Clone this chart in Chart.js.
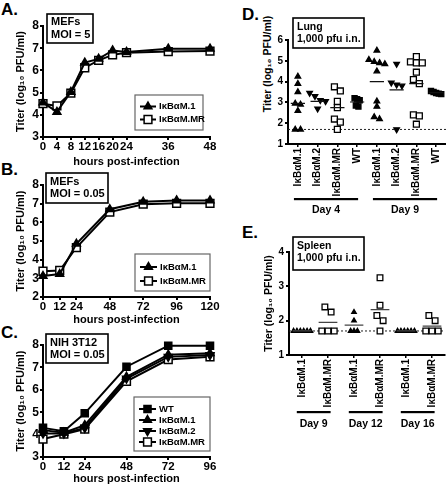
<!DOCTYPE html>
<html lang="en">
<head>
<meta charset="UTF-8">
<title>Titer</title>
<script src="https://cdn.jsdelivr.net/npm/chart.js"></script>
<style>
  body { margin: 0; width: 446px; height: 484px; position: relative; overflow: hidden; background: #fff;
         font-family: "Liberation Sans", Arial, sans-serif; font-weight: bold; color: #000; }
  canvas, .letter, .ytitle { position: absolute; }
  .letter { font-size: 17px; line-height: 17px; }
  .ytitle { font-size: 10.5px; white-space: nowrap; transform: translate(-50%, -50%) rotate(-90deg); }
</style>
</head>
<body>
<div class="letter" style="left:1px;top:1px">A.</div>
<div class="letter" style="left:1px;top:161px">B.</div>
<div class="letter" style="left:1px;top:324px">C.</div>
<div class="letter" style="left:242px;top:6px">D.</div>
<div class="letter" style="left:242px;top:224px">E.</div>
<div class="ytitle" style="left:267px;top:64px">Titer (log₁₀ PFU/ml)</div>

<canvas id="chartA" width="225" height="170" style="left:0;top:0"></canvas>
<canvas id="chartB" width="225" height="160" style="left:0;top:165px"></canvas>
<canvas id="chartC" width="225" height="159" style="left:0;top:325px"></canvas>
<canvas id="chartD" width="230" height="222" style="left:225px;top:0"></canvas>
<canvas id="chartE" width="230" height="262" style="left:225px;top:222px"></canvas>

<script>
    // ---- A: MEFs, MOI = 5
    var hoursA = [0, 4, 8, 12, 16, 20, 24, 36, 48];
    var a_M1 = [4.55, 4.13, 5.03, 6.35, 6.52, 6.9, 6.83, 6.98, 6.98];
    var a_MR = [4.5, 4.4, 4.98, 6.12, 6.45, 6.7, 6.8, 6.85, 6.87];

    // ---- B: MEFs, MOI = 0.05
    var hoursB = [0, 12, 24, 48, 72, 96, 120];
    var b_M1 = [3.12, 3.23, 4.85, 6.7, 7.1, 7.17, 7.17];
    var b_MR = [3.38, 3.42, 4.65, 6.55, 6.97, 7.02, 7.02];

    // ---- C: NIH 3T12, MOI = 0.05
    var hoursC = [0, 12, 24, 48, 72, 96];
    var c_WT = [4.3, 4.15, 4.95, 7.03, 7.97, 7.97];
    var c_M1 = [4.2, 4.08, 4.42, 6.58, 7.57, 7.63];
    var c_M2 = [4.05, 4.05, 4.3, 6.5, 7.47, 7.55];
    var c_MR = [3.8, 4.02, 4.25, 6.38, 7.35, 7.47];

    // ---- D: lung, day 4 and day 9
    var lungLabels = ['IκBαM.1', 'IκBαM.2', 'IκBαM.MR', 'WT', 'IκBαM.1', 'IκBαM.2', 'IκBαM.MR', 'WT'];
    var lungD4_M1 = [4.25, 3.9, 3.5, 2.95, 2.9, 2.6, 1.7, 1.7];
    var lungD4_M2 = [3.45, 3.3, 3.1, 3.05, 2.7];
    var lungD4_MR = [3.75, 3.55, 3.05, 2.75, 2.2, 2.05, 1.7];
    var lungD4_WT = [3.2, 3.15, 3.1, 2.85, 2.8];
    var lungD9_M1 = [5.5, 5.05, 4.95, 4.9, 4.85, 4.5, 3.05, 2.8, 2.3, 2.2];
    var lungD9_M2 = [4.85, 3.95, 3.85, 3.8, 1.7];
    var lungD9_MR = [5.2, 4.95, 4.9, 4.9, 4.45, 4.1, 3.9, 2.4, 2.35, 1.95];
    var lungD9_WT = [3.55, 3.5, 3.45, 3.42, 3.4];
    var lungMeans = [2.95, 3.05, 2.75, 3.02, 4.0, 3.6, 3.9, 3.47];
    var lungDays = ['Day 4', 'Day 9'];

    // ---- E: spleen, day 9, 12, 16
    var spleenLabels = ['IκBαM.1', 'IκBαM.MR', 'IκBαM.1', 'IκBαM.MR', 'IκBαM.1', 'IκBαM.MR'];
    var spleenD9_M1 = [1.7, 1.7, 1.7, 1.7, 1.7, 1.7];
    var spleenD9_MR = [2.4, 2.25, 1.7, 1.7, 1.7];
    var spleenD12_M1 = [2.25, 2.0, 1.7, 1.7, 1.7];
    var spleenD12_MR = [3.25, 2.45, 2.15, 2.0, 1.7];
    var spleenD16_M1 = [1.7, 1.7, 1.7, 1.7, 1.7, 1.7];
    var spleenD16_MR = [2.15, 2.0, 1.7, 1.7, 1.7];
    var spleenMeans = [1.7, 1.95, 1.87, 2.32, 1.7, 1.84];
    var spleenDays = ['Day 9', 'Day 12', 'Day 16'];

    var detectionLimit = 1.7;
    var yTitle = 'Titer (log₁₀ PFU/ml)';

    var FONT = '"Liberation Sans", Arial, sans-serif';
    function bold(size) { return { family: FONT, size: size, weight: 'bold', lineHeight: 1 }; }

    // caixa com texto (MEFs / MOI ...)
    var infoBox = {
        id: 'infoBox',
        afterDraw: function (chart, args, o) {
            if (!o.lines) return;
            var ctx = chart.ctx;
            ctx.save();
            ctx.fillStyle = '#fff';
            ctx.fillRect(o.x, o.y, o.w, o.h);
            ctx.lineWidth = 1.6;
            ctx.strokeStyle = '#000';
            ctx.strokeRect(o.x, o.y, o.w, o.h);
            ctx.fillStyle = '#000';
            ctx.font = 'bold ' + o.size + 'px ' + FONT;
            ctx.textBaseline = 'middle';
            for (var i = 0; i < o.lines.length; i++) {
                ctx.fillText(o.lines[i], o.x + o.pad, o.y + o.first + i * o.lead);
            }
            ctx.restore();
        }
    };

    // legenda em caixa dentro do grafico
    var boxLegend = {
        id: 'boxLegend',
        afterDraw: function (chart, args, o) {
            if (!o.w) return;
            var ctx = chart.ctx;
            ctx.save();
            ctx.lineWidth = 1.2;
            ctx.strokeStyle = '#666';
            ctx.strokeRect(o.x, o.y, o.w, o.h);
            chart.data.datasets.forEach(function (ds, i) {
                var cy = o.y + o.top + i * o.row;
                var x0 = o.x + 5;
                ctx.strokeStyle = '#000';
                ctx.lineWidth = 2;
                ctx.beginPath();
                ctx.moveTo(x0, cy);
                ctx.lineTo(x0 + o.line, cy);
                ctx.stroke();
                ctx.fillStyle = ds.pointBackgroundColor;
                ctx.lineWidth = ds.pointBorderWidth;
                Chart.helpers.drawPoint(ctx, {
                    pointStyle: ds.pointStyle, rotation: ds.pointRotation || 0,
                    radius: ds.pointRadius, borderWidth: ds.pointBorderWidth
                }, x0 + o.line / 2, cy);
                ctx.fillStyle = '#000';
                ctx.font = 'bold ' + o.size + 'px ' + FONT;
                ctx.textBaseline = 'middle';
                ctx.fillText(ds.label, x0 + o.line + 3, cy);
            });
            ctx.restore();
        }
    };

    // linha pontilhada do limite de deteccao
    var lodLine = {
        id: 'lodLine',
        beforeDatasetsDraw: function (chart, args, o) {
            if (o.value == null) return;
            var ctx = chart.ctx, y = chart.scales.y.getPixelForValue(o.value);
            ctx.save();
            ctx.setLineDash([2, 2]);
            ctx.lineWidth = 1;
            ctx.strokeStyle = '#222';
            ctx.beginPath();
            ctx.moveTo(chart.chartArea.left, y);
            ctx.lineTo(chart.chartArea.right, y);
            ctx.stroke();
            ctx.restore();
        }
    };

    // barras e textos dos dias embaixo dos rotulos
    var groupBars = {
        id: 'groupBars',
        afterDraw: function (chart, args, o) {
            if (!o.spans) return;
            var ctx = chart.ctx, xs = chart.scales.x;
            ctx.save();
            ctx.fillStyle = '#000';
            ctx.font = 'bold ' + o.size + 'px ' + FONT;
            ctx.textAlign = 'center';
            ctx.textBaseline = 'middle';
            o.spans.forEach(function (sp, i) {
                var x0 = xs.getPixelForValue(sp[0] - o.padL);
                var x1 = xs.getPixelForValue(sp[1] + o.padR);
                ctx.fillRect(x0, o.barY - 1, x1 - x0, 2.2);
                ctx.fillText(o.labels[i], (x0 + x1) / 2, o.textY);
            });
            ctx.restore();
        }
    };

    Chart.register(infoBox, boxLegend, lodLine, groupBars);

    var TRI = { pointStyle: 'triangle', pointRadius: 4.5, pointBackgroundColor: '#000' };
    var INV = { pointStyle: 'triangle', pointRotation: 180, pointRadius: 4.5, pointBackgroundColor: '#000' };
    var SQ = { pointStyle: 'rect', pointRadius: 5, pointBackgroundColor: '#000' };
    var OSQ = { pointStyle: 'rect', pointRadius: 5.5, pointBackgroundColor: '#fff' };

    function curva(label, xs, ys, estilo) {
        var ds = {
            label: label,
            data: xs.map(function (x, i) { return { x: x, y: ys[i] }; }),
            showLine: true, borderColor: '#000', borderWidth: 2,
            pointBorderColor: '#000', pointBorderWidth: 1.5, clip: false
        };
        return Object.assign(ds, estilo);
    }

    function escalasTempo(xTicks, yMin, yMax, xH, titlePadB) {
        return {
            x: {
                type: 'linear', min: xTicks[0], max: xTicks[xTicks.length - 1],
                afterBuildTicks: function (s) { s.ticks = xTicks.map(function (v) { return { value: v }; }); },
                ticks: { font: bold(11.5), color: '#000', padding: 1, autoSkip: false, maxRotation: 0 },
                grid: { display: true, drawOnChartArea: false, tickLength: 3, color: '#000', lineWidth: 2 },
                border: { color: '#000', width: 2 },
                title: { display: true, text: 'hours post-infection', font: bold(11), color: '#000', padding: { top: 0, bottom: titlePadB } },
                afterFit: function (s) { s.height = xH; }
            },
            y: {
                min: yMin, max: yMax,
                ticks: { stepSize: 1, font: bold(12), color: '#000', padding: 1 },
                grid: { display: true, drawOnChartArea: false, tickLength: 3, color: '#000', lineWidth: 2 },
                border: { color: '#000', width: 2 },
                title: { display: true, text: yTitle, font: bold(11), color: '#000', padding: { top: 15, bottom: 0 } },
                afterFit: function (s) { s.width = 43; }
            }
        };
    }

    function graficoTempo(id, datasets, scales, padTop, box, legenda) {
        new Chart(document.getElementById(id), {
            type: 'scatter',
            data: { datasets: datasets },
            options: {
                responsive: false, animation: false, devicePixelRatio: 1,
                layout: { padding: { top: padTop, right: 15, left: 0, bottom: 0 } },
                scales: scales,
                plugins: { legend: { display: false }, tooltip: { enabled: false }, infoBox: box, boxLegend: legenda }
            }
        });
    }

    graficoTempo('chartA', [
        curva('IκBαM.1', hoursA, a_M1, TRI),
        curva('IκBαM.MR', hoursA, a_MR, OSQ)
    ], escalasTempo(hoursA, 3, 8, 33, 3), 26,
        { x: 47, y: 14, w: 46, h: 29, lines: ['MEFs', 'MOI = 5'], size: 11, pad: 4, first: 8, lead: 13 },
        { x: 135, y: 95, w: 68, h: 35, top: 11.5, row: 13, line: 16, size: 9.5 });

    graficoTempo('chartB', [
        curva('IκBαM.1', hoursB, b_M1, TRI),
        curva('IκBαM.MR', hoursB, b_MR, OSQ)
    ], escalasTempo(hoursB, 2, 8, 28, 0), 20,
        { x: 46, y: 8, w: 62, h: 30, lines: ['MEFs', 'MOI = 0.05'], size: 11, pad: 4, first: 8.5, lead: 12.5 },
        { x: 135, y: 89, w: 75, h: 37, top: 13, row: 14, line: 17, size: 9.5 });

    graficoTempo('chartC', [
        curva('WT', hoursC, c_WT, SQ),
        curva('IκBαM.1', hoursC, c_M1, TRI),
        curva('IκBαM.2', hoursC, c_M2, INV),
        curva('IκBαM.MR', hoursC, c_MR, OSQ)
    ], escalasTempo(hoursC, 3, 8, 27, 0), 20,
        { x: 46, y: 9, w: 62, h: 29, lines: ['NIH 3T12', 'MOI = 0.05'], size: 11, pad: 4, first: 8.5, lead: 12 },
        { x: 134, y: 72, w: 76, h: 54, top: 12, row: 11, line: 17, size: 9.5 });

    // espalha pontos com valores proximos lado a lado (como no GraphPad)
    function espalhar(valores, centro, tol, passo) {
        var out = [], grupo = [];
        function fecha() {
            grupo.forEach(function (v, k) {
                out.push({ x: centro + (k - (grupo.length - 1) / 2) * passo, y: v });
            });
            grupo = [];
        }
        valores.forEach(function (v) {
            if (grupo.length && Math.abs(grupo[grupo.length - 1] - v) > tol) fecha();
            grupo.push(v);
        });
        fecha();
        return out;
    }

    function medias(valores, meia) {
        var pts = [];
        valores.forEach(function (m, i) {
            pts.push({ x: i - meia, y: m }, { x: i + meia, y: m }, { x: i, y: null });
        });
        return pts;
    }

    function pontos(grupos, tol, passo, estilo) {
        var data = [];
        grupos.forEach(function (g) { data = data.concat(espalhar(g[1], g[0], tol, passo)); });
        return Object.assign({ data: data, pointBorderColor: '#000', pointBorderWidth: 1.3, clip: false }, estilo);
    }

    function escalasOrgao(rotulos, yMax, yW, xH, titleOn, titlePad, labelSize) {
        return {
            x: {
                type: 'linear', min: -0.5, max: rotulos.length - 0.5,
                afterBuildTicks: function (s) { s.ticks = rotulos.map(function (r, i) { return { value: i }; }); },
                ticks: {
                    font: bold(labelSize), color: '#000', padding: 1, autoSkip: false, minRotation: 90, maxRotation: 90,
                    callback: function (v, i) { return rotulos[i]; }
                },
                grid: { display: true, drawOnChartArea: false, tickLength: 3, color: '#000', lineWidth: 1.5 },
                border: { color: '#000', width: 2 },
                afterFit: function (s) { s.height = xH; }
            },
            y: {
                min: 1, max: yMax,
                ticks: { stepSize: 1, font: bold(10), color: '#000', padding: 2 },
                grid: { display: true, drawOnChartArea: false, tickLength: 3, color: '#000', lineWidth: 2 },
                border: { color: '#000', width: 2 },
                title: { display: titleOn, text: yTitle, font: bold(10.5), color: '#000', padding: { top: titlePad, bottom: 0 } },
                afterFit: function (s) { s.width = yW; }
            }
        };
    }

    var dTri = { pointStyle: 'triangle', pointRadius: 3.2, pointBackgroundColor: '#000' };
    var dInv = { pointStyle: 'triangle', pointRotation: 180, pointRadius: 3.2, pointBackgroundColor: '#000' };
    var dOsq = { pointStyle: 'rect', pointRadius: 4.2, pointBackgroundColor: '#fff' };
    var dSq = { pointStyle: 'rect', pointRadius: 3.6, pointBackgroundColor: '#000' };

    new Chart(document.getElementById('chartD'), {
        type: 'scatter',
        data: {
            datasets: [
                { data: medias(lungMeans, 0.36), showLine: true, spanGaps: false, pointRadius: 0, borderColor: '#111', borderWidth: 1.2 },
                pontos([[0, lungD4_M1], [4, lungD9_M1]], 0.22, 0.27, dTri),
                pontos([[1, lungD4_M2], [5, lungD9_M2]], 0.22, 0.27, dInv),
                pontos([[2, lungD4_MR], [6, lungD9_MR]], 0.22, 0.3, dOsq),
                pontos([[3, lungD4_WT], [7, lungD9_WT]], 0.22, 0.13, dSq)
            ]
        },
        options: {
            responsive: false, animation: false, devicePixelRatio: 1,
            layout: { padding: { top: 40, right: 9, left: 0, bottom: 0 } },
            scales: escalasOrgao(lungLabels, 6, 63, 78, false, 0, 10),
            plugins: {
                legend: { display: false }, tooltip: { enabled: false },
                lodLine: { value: detectionLimit },
                infoBox: { x: 68, y: 18, w: 71, h: 30, lines: ['Lung', '1,000 pfu i.n.'], size: 10.5, pad: 4, first: 9, lead: 12.5 },
                groupBars: { spans: [[0, 3], [4, 7]], labels: lungDays, padL: 0.2, padR: 0.05, barY: 199, textY: 210, size: 10.5 }
            }
        }
    });

    var eTri = { pointStyle: 'triangle', pointRadius: 2.6, pointBackgroundColor: '#000' };
    var eOsq = { pointStyle: 'rect', pointRadius: 4, pointBackgroundColor: '#fff' };

    new Chart(document.getElementById('chartE'), {
        type: 'scatter',
        data: {
            datasets: [
                { data: medias(spleenMeans, 0.36), showLine: true, spanGaps: false, pointRadius: 0, borderColor: '#444', borderWidth: 1.3 },
                pontos([[0, spleenD9_M1], [2, spleenD12_M1], [4, spleenD16_M1]], 0.16, 0.13, eTri),
                pontos([[1, spleenD9_MR], [3, spleenD12_MR], [5, spleenD16_MR]], 0.16, 0.24, eOsq)
            ]
        },
        options: {
            responsive: false, animation: false, devicePixelRatio: 1,
            layout: { padding: { top: 30, right: 10, left: 0, bottom: 0 } },
            scales: escalasOrgao(spleenLabels, 4, 64, 129, true, 39, 10),
            plugins: {
                legend: { display: false }, tooltip: { enabled: false },
                lodLine: { value: detectionLimit },
                infoBox: { x: 68, y: 15, w: 71, h: 33, lines: ['Spleen', '1,000 pfu i.n.'], size: 10.5, pad: 4, first: 9, lead: 12.5 },
                groupBars: { spans: [[0, 1], [2, 3], [4, 5]], labels: spleenDays, padL: 0.2, padR: 0.1, barY: 190, textY: 202, size: 10.5 }
            }
        }
    });
</script>
</body>
</html>
